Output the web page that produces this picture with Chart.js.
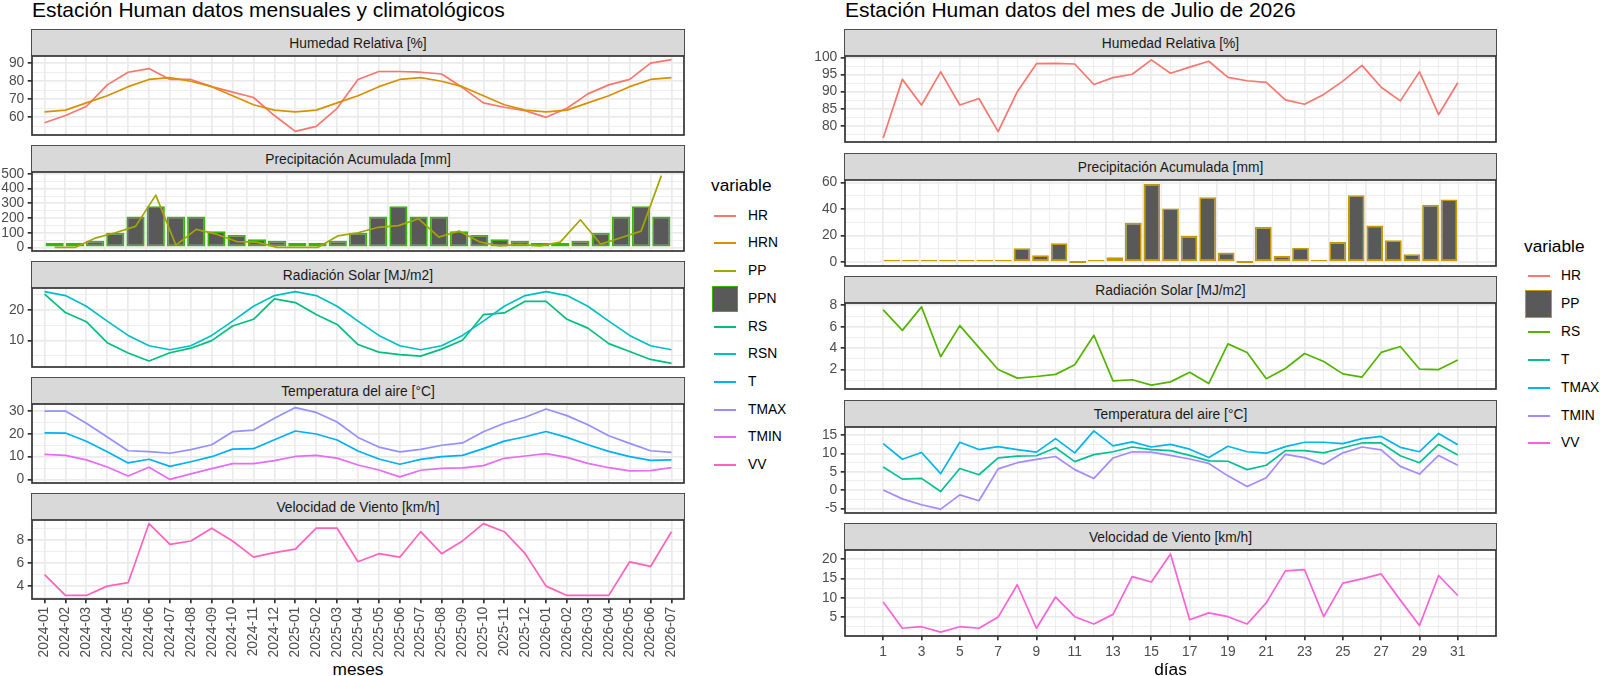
<!DOCTYPE html>
<html lang="es">
<head>
<meta charset="utf-8">
<title>Estación Human</title>
<script src="https://cdn.jsdelivr.net/npm/chart.js@4.4.1/dist/chart.umd.min.js"></script>
<style>
  html,body{margin:0;padding:0;background:#fff;}
  body{position:relative;width:1600px;height:676px;overflow:hidden;font-family:"Liberation Sans",Arial,Helvetica,sans-serif;}
  .title{position:absolute;font-size:21px;line-height:21px;color:#000;white-space:nowrap;}
  .strip{position:absolute;box-sizing:border-box;background:#D9D9D9;border:1px solid #4D4D4D;border-bottom:none;color:#1A1A1A;font-size:13.8px;display:flex;align-items:center;justify-content:center;white-space:nowrap;}
  .axt{position:absolute;font-size:17.3px;line-height:20px;color:#000;text-align:center;white-space:nowrap;}
  .lgt{position:absolute;font-size:17.3px;line-height:20px;color:#000;white-space:nowrap;}
  .lgx{position:absolute;font-size:13.8px;line-height:16px;color:#000;white-space:nowrap;}
  .lgl{position:absolute;height:2px;}
  .lgb{position:absolute;box-sizing:border-box;background:#595959;}
</style>
</head>
<body>
<script>
// ---------------- DATA: monthly / climatological ----------------
const meses = ['2024-01','2024-02','2024-03','2024-04','2024-05','2024-06','2024-07','2024-08','2024-09','2024-10','2024-11','2024-12',
               '2025-01','2025-02','2025-03','2025-04','2025-05','2025-06','2025-07','2025-08','2025-09','2025-10','2025-11','2025-12',
               '2026-01','2026-02','2026-03','2026-04','2026-05','2026-06','2026-07'];
const HR_m   = [57,61,66,78,85,87,81,81,77,74,71,61,52.2,55,65,81,85.4,85.4,85,84,76.5,68,65.6,63.7,60,65,73,78,81,90,92];
const HRN_m  = [63,64,68,72,77,81,82,80,77,72,67,64,63,64,68,72,77,81,82,80,77,72,67,64,63,64,68,72,77,81,82];
const PP_m   = [0,0,63,100,143,356,15,123,90,40,36,0,0,0,78,100,137,148,195,70,112,38,11,20,11,36,188,22,66,111,489];
const PPN_m  = [30,30,45,100,210,280,210,210,110,85,55,45,30,30,45,100,210,280,210,210,110,85,55,45,30,30,45,100,210,280,210];
const RS_m   = [25.3,19.2,16.2,9.3,5.9,3.3,6.0,7.5,10.0,14.8,17.0,23.7,22.5,18.6,15.3,8.7,6.2,5.4,4.9,7.2,10.1,18.5,19.1,22.9,22.9,17.0,14.1,9.0,6.4,3.8,2.5];
const RSN_m  = [26.1,24.8,21.3,16.4,11.7,8.3,7.0,8.3,11.7,16.4,21.3,24.8,26.1,24.8,21.3,16.4,11.7,8.3,7.0,8.3,11.7,16.4,21.3,24.8,26.1,24.8,21.3,16.4,11.7,8.3,7.0];
const T_m    = [20.4,20.3,16.7,12.2,7.3,8.9,5.8,7.8,10.0,13.3,13.5,17.4,21.2,19.9,17.3,12.5,9.0,6.7,8.8,10.0,10.6,13.5,16.8,18.7,21.0,18.4,15.2,12.3,10.0,8.4,8.6];
const TMAX_m = [29.9,29.9,24.6,18.6,12.6,12.2,11.5,13.1,15.2,20.9,21.6,26.8,31.4,29.3,25.1,18.4,14.2,12.1,13.2,15.0,16.0,20.9,24.6,27.2,30.8,27.9,23.9,19.1,15.8,12.6,11.9];
const TMIN_m = [11.0,10.6,8.6,5.5,1.6,5.4,0.1,2.5,4.8,7.0,7.0,8.3,10.1,10.6,9.4,6.4,4.2,1.2,4.1,4.9,5.1,6.1,9.3,10.3,11.3,9.7,7.1,5.2,3.8,3.9,5.2];
const VV_m   = [5.0,3.2,3.2,4.0,4.3,9.4,7.6,7.9,9.0,7.9,6.5,6.9,7.2,9.0,9.0,6.1,6.8,6.5,8.7,6.8,7.9,9.4,8.7,6.8,4.0,3.2,3.2,3.2,6.1,5.7,8.7];

// ---------------- DATA: daily, July 2026 ----------------
const dias   = [1,2,3,4,5,6,7,8,9,10,11,12,13,14,15,16,17,18,19,20,21,22,23,24,25,26,27,28,29,30,31];
const HR_d   = [76.4,93.6,86.1,95.8,86.1,88.0,78.3,90.0,98.2,98.3,98.1,92.1,94.1,95.1,99.3,95.4,97.2,98.9,94.2,93.2,92.7,87.6,86.3,89.2,93.1,97.7,91.3,87.3,95.8,83.3,92.6];
const PP_d   = [0.2,0.4,0.2,0.3,0.2,0.3,1.0,10.4,5.2,14.2,0,0.2,3.7,29.6,59,40.5,19.7,49,7.2,0,26.4,4.7,10.9,0.3,15.2,50.5,27.6,16.4,6.0,43.3,47.3];
const RS_d   = [7.57,5.66,7.85,3.2,6.1,4.05,2.0,1.2,1.35,1.55,2.45,5.2,0.95,1.05,0.55,0.85,1.75,0.7,4.4,3.6,1.15,2.1,3.5,2.75,1.6,1.3,3.6,4.15,2.05,2.0,2.9];
const T_d    = [6.3,3.0,3.2,-0.4,5.9,4.2,8.8,9.3,9.4,11.6,7.8,9.7,10.5,11.8,11.1,10.8,9.5,8.0,7.9,5.6,6.8,10.8,10.8,10.2,11.6,12.9,12.9,9.4,7.5,12.5,9.6];
const TMAX_d = [12.7,8.45,10.3,4.5,13.1,11.1,11.9,11.1,10.4,14.1,10.2,16.2,12.1,13.2,11.8,12.5,11.2,8.9,12.0,10.5,10.1,11.9,13.1,13.1,12.7,14.1,14.7,11.7,10.5,15.5,12.4];
const TMIN_d = [0,-2.4,-4.0,-5.2,-1.3,-2.9,5.8,7.5,8.4,9.2,5.6,3.2,8.8,10.5,10.4,9.5,8.5,7.3,3.9,1.0,3.4,9.8,8.9,7.1,10.2,11.8,11.0,6.5,4.4,9.5,6.8];
const VV_d   = [8.9,2.1,2.5,1.1,2.5,2.1,5.0,13.4,2.1,10.2,5.1,3.2,5.7,15.5,14.1,21.4,4.3,6.1,5.1,3.2,8.7,17.0,17.3,5.1,13.8,14.9,16.2,9.4,2.8,15.8,10.6];

// text
const tituloM = 'Estación Human datos mensuales y climatológicos';
const tituloD = 'Estación Human datos del mes de Julio de 2026';
const facetas = ['Humedad Relativa [%]','Precipitación Acumulada [mm]','Radiación Solar [MJ/m2]','Temperatura del aire [°C]','Velocidad de Viento [km/h]'];

// colours (ggplot hue palettes)
const colM = {HR:'#F8766D',HRN:'#D89000',PP:'#A3A500',PPN:'#39B600',RS:'#00BF7D',RSN:'#00BFC4',T:'#00B0F6',TMAX:'#9590FF',TMIN:'#E76BF3',VV:'#FF62BC'};
const colD = {HR:'#F8766D',PP:'#C49A00',RS:'#53B400',T:'#00C094',TMAX:'#00B6EB',TMIN:'#A58AFF',VV:'#FB61D7'};

// ---------------- helpers ----------------
const FONT = '"Liberation Sans", Arial, Helvetica, sans-serif';
Chart.defaults.font.family = FONT;
Chart.defaults.font.size = 13.8;
Chart.defaults.color = '#4D4D4D';
const GRID = '#EBEBEB', DARK = '#333333', LW = 1.7, BARFILL = '#595959';

function pts(arr, xs){ return arr.map((v,i)=>({x:xs[i], y:v})); }
function expandRange(arrs, zero){
  let mn=Infinity, mx=-Infinity;
  arrs.forEach(a=>a.forEach(v=>{ if(v<mn)mn=v; if(v>mx)mx=v; }));
  if(zero){ mn=Math.min(mn,0); mx=Math.max(mx,0); }
  const r=mx-mn; return [mn-0.05*r, mx+0.05*r];
}
function yTicks(min,max,step){
  const out=[];
  for(let k=Math.floor(min/step)-1;k<=Math.ceil(max/step)+1;k++){
    const v=+(k*step).toFixed(6);
    if(v>=min && v<=max) out.push({value:v, mn:false});
    const h=+(v+step/2).toFixed(6);
    if(h>=min && h<=max) out.push({value:h, mn:true});
  }
  return out.sort((a,b)=>a.value-b.value);
}
function line(label, arr, xs, color, order){
  return {type:'line', label, data:pts(arr,xs), borderColor:color, backgroundColor:color, borderWidth:LW,
          pointRadius:0, pointHoverRadius:0, tension:0, fill:false, borderJoinStyle:'round', order};
}
function bars(label, arr, xs, color, order){
  return {type:'bar', label, data:pts(arr,xs), backgroundColor:BARFILL, borderColor:color, borderWidth:LW,
          borderSkipped:false, barPercentage:0.9, categoryPercentage:1, minBarLength:2, order};
}
const borderPlugin = { id:'pborder', afterDraw(chart){
  const a=chart.chartArea, c=chart.ctx; c.save(); c.strokeStyle=DARK; c.lineWidth=LW;
  c.strokeRect(a.left,a.top,a.right-a.left,a.bottom-a.top); c.restore(); } };

function addDiv(cls, css, text){ const d=document.createElement('div'); d.className=cls; d.style.cssText=css; if(text!==undefined) d.textContent=text; document.body.appendChild(d); return d; }

function facet(g, i, datasets, yRange, yStep, bottom){
  const stripTop=g.stripTops[i], panelTop=stripTop+g.stripH;
  addDiv('strip', `left:${g.panelL-0.85}px;top:${stripTop}px;width:${g.panelR-g.panelL+1.7}px;height:${g.stripH}px;`, facetas[i]);
  const padTop=12, padRight=10, padBottom=bottom?0:12, xh=bottom?g.xAxisH:0;
  const W=g.panelR+padRight-g.canvasLeft, H=padTop+g.panelH+padBottom+xh;
  const cv=document.createElement('canvas'); cv.width=W; cv.height=H;
  cv.style.cssText=`position:absolute;left:${g.canvasLeft}px;top:${panelTop-padTop}px;width:${W}px;height:${H}px;`;
  document.body.appendChild(cv);
  const yt=yTicks(yRange[0],yRange[1],yStep);
  const xt=g.xTicks;
  new Chart(cv,{
    type:'line',
    data:{datasets},
    options:{
      responsive:false, animation:false, events:[],
      layout:{padding:{top:padTop,right:padRight,bottom:padBottom,left:0}},
      plugins:{legend:{display:false}, tooltip:{enabled:false}},
      scales:{
        x:{type:'linear', min:g.xRange[0], max:g.xRange[1],
           afterBuildTicks:s=>{ s.ticks=xt.map(t=>({...t})); },
           afterFit:s=>{ s.height=xh; s.paddingLeft=0; s.paddingRight=0; },
           border:{display:false},
           grid:{color:GRID, lineWidth:c=>(c.tick&&c.tick.mn)?0.85:LW, drawTicks:bottom, tickLength:4.3, tickWidth:LW,
                 tickColor:c=>(c.tick&&c.tick.mn)?'rgba(0,0,0,0)':DARK},
           ticks:{display:bottom, autoSkip:false, padding:3.45, color:'#4D4D4D', minRotation:g.rot, maxRotation:g.rot,
                  callback:(v,k,t)=>g.xLabel(v,t[k])}},
        y:{type:'linear', min:yRange[0], max:yRange[1],
           afterBuildTicks:s=>{ s.ticks=yt.map(t=>({...t})); },
           afterFit:s=>{ s.width=g.yW; },
           border:{display:false},
           grid:{color:GRID, lineWidth:c=>(c.tick&&c.tick.mn)?0.85:LW, drawTicks:true, tickLength:4.3, tickWidth:LW,
                 tickColor:c=>(c.tick&&c.tick.mn)?'rgba(0,0,0,0)':DARK},
           ticks:{autoSkip:false, padding:3.45, color:'#4D4D4D', callback:(v,k,t)=>t[k].mn?'':String(v)}}
      }
    },
    plugins:[borderPlugin]
  });
}

// ---------------- LEFT: monthly ----------------
const xM = meses.map((m,i)=>i+1);
const gL = {panelL:32, panelR:684, canvasLeft:0, yW:32, stripTops:[29,145,261,377,493], stripH:27, panelH:79, xAxisH:60,
            xRange:[0.4, meses.length+0.6], rot:90,
            xTicks:xM.map(v=>({value:v, mn:false})),
            xLabel:(v,t)=>meses[Math.round(v)-1]||''};
addDiv('title', `left:32px;top:-1px;`, tituloM);
facet(gL,0,[line('HR',HR_m,xM,colM.HR,2), line('HRN',HRN_m,xM,colM.HRN,1)], expandRange([HR_m,HRN_m]), 10, false);
facet(gL,1,[line('PP',PP_m,xM,colM.PP,1), bars('PPN',PPN_m,xM,colM.PPN,2)], expandRange([PP_m,PPN_m],true), 100, false);
facet(gL,2,[line('RS',RS_m,xM,colM.RS,2), line('RSN',RSN_m,xM,colM.RSN,1)], expandRange([RS_m,RSN_m]), 10, false);
facet(gL,3,[line('T',T_m,xM,colM.T,3), line('TMAX',TMAX_m,xM,colM.TMAX,2), line('TMIN',TMIN_m,xM,colM.TMIN,1)], expandRange([T_m,TMAX_m,TMIN_m]), 10, false);
facet(gL,4,[line('VV',VV_m,xM,colM.VV,1)], expandRange([VV_m]), 2, true);
addDiv('axt', `left:258px;width:200px;top:658.5px;`, 'meses');

// ---------------- RIGHT: daily ----------------
const dRange = [dias[0]-0.45, dias[dias.length-1]+0.45];
const dPad = 0.05*(dRange[1]-dRange[0]);
const dTicks = []; for(let d=Math.ceil(dRange[0]-dPad); d<=Math.floor(dRange[1]+dPad); d++) dTicks.push({value:d, mn:(d%2===0)});
const gR = {panelL:845, panelR:1496, canvasLeft:790, yW:55, stripTops:[29,153,276,400,523], stripH:27, panelH:86, xAxisH:26,
            xRange:[dRange[0]-dPad, dRange[1]+dPad], rot:0,
            xTicks:dTicks,
            xLabel:(v,t)=>t.mn?'':String(v)};
addDiv('title', `left:845px;top:-1px;`, tituloD);
facet(gR,0,[line('HR',HR_d,dias,colD.HR,1)], expandRange([HR_d]), 5, false);
facet(gR,1,[bars('PP',PP_d,dias,colD.PP,1)], expandRange([PP_d],true), 20, false);
facet(gR,2,[line('RS',RS_d,dias,colD.RS,1)], expandRange([RS_d]), 2, false);
facet(gR,3,[line('T',T_d,dias,colD.T,3), line('TMAX',TMAX_d,dias,colD.TMAX,2), line('TMIN',TMIN_d,dias,colD.TMIN,1)], expandRange([T_d,TMAX_d,TMIN_d]), 5, false);
facet(gR,4,[line('VV',VV_d,dias,colD.VV,1)], expandRange([VV_d]), 5, true);
addDiv('axt', `left:1070.5px;width:200px;top:658.5px;`, 'días');

// ---------------- LEGENDS ----------------
function legend(x, titleY, firstY, step, lineX, lineW, boxW, textX, items){
  addDiv('lgt', `left:${x}px;top:${titleY-10}px;`, 'variable');
  items.forEach((it,k)=>{
    const yc=Math.round(firstY+k*step);
    if(it.box){
      addDiv('lgb', `left:${x+0.5}px;top:${yc-boxW/2}px;width:${boxW}px;height:${boxW}px;border:${LW}px solid ${it.color};`);
    } else {
      addDiv('lgl', `left:${lineX}px;top:${yc-1}px;width:${lineW}px;background:${it.color};`);
    }
    addDiv('lgx', `left:${textX}px;top:${yc-8}px;`, it.name);
  });
}
legend(711, 185, 215.7, 27.7, 714, 22, 26.6, 748,
  Object.keys(colM).map(n=>({name:n, color:colM[n], box:n==='PPN'})));
legend(1524, 246, 276, 27.9, 1528, 21.5, 27.4, 1561,
  Object.keys(colD).map(n=>({name:n, color:colD[n], box:n==='PP'})));
</script>
</body>
</html>
